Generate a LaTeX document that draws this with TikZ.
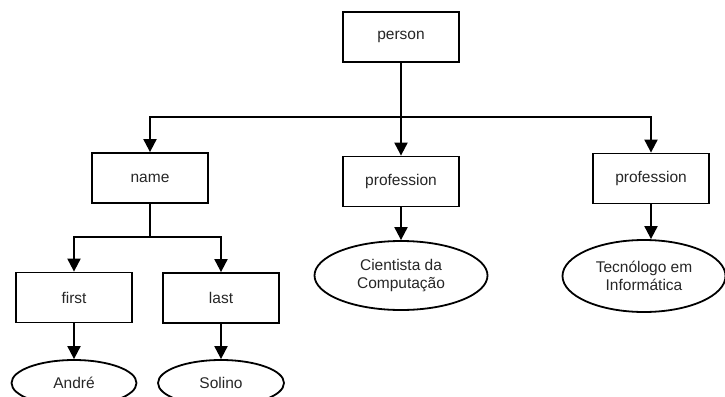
\documentclass[tikz,border=0pt]{standalone}
\usepackage{fontspec}
\setmainfont{Liberation Sans}
\usetikzlibrary{arrows.meta,shapes.geometric}

\begin{document}
\begin{tikzpicture}
  [x=1pt,y=-1pt,auto=center,
   every node/.style={draw,line width=1.8pt,text=black!85,font=\fontsize{15.5}{18}\selectfont},
   box/.style={rectangle,minimum width=116pt,minimum height=50pt},
   value/.style={ellipse,inner sep=0pt,align=center},
   conn/.style={line width=2pt},
   arr/.style={conn,-{Triangle[width=13pt,length=13pt]}}]
  \useasboundingbox (0,0) rectangle (725,396);
  \node[box] (person) at (401,37) {person};
  \node[box] (name) at (150,178) {name};
  \node[box] (prof1) at (401,181.5) {profession};
  \node[box] (prof2) at (651,178.5) {profession};
  \node[box] (first) at (74,297.5) {first};
  \node[box] (last) at (221,298) {last};
  \node[value,minimum width=125pt,minimum height=46pt] (andre) at (74,383) {André};
  \node[value,minimum width=126pt,minimum height=46pt] (solino) at (221,383) {Solino};
  \node[value,minimum width=173pt,minimum height=69pt] (cientista) at (401,275.5) {Cientista da\\Computação};
  \node[value,minimum width=163pt,minimum height=72pt] (tecnologo) at (644,276) {Tecnólogo em\\Informática};
  \coordinate (j1) at (401,117);
  \coordinate (j2) at (150,237);
  \draw[conn] (person) -- (j1);
  \foreach \to in {name,prof2}
    \draw[arr] (j1) -| (\to);
  \draw[arr] (j1) -- (prof1);
  \draw[conn] (name) -- (j2);
  \foreach \to in {first,last}
    \draw[arr] (j2) -| (\to);
  \foreach \from/\to in {first/andre,last/solino,prof1/cientista}
    \draw[arr] (\from) -- (\to);
  \draw[arr] (prof2.south) -- (prof2.south |- tecnologo.north);
\end{tikzpicture}
\end{document}
